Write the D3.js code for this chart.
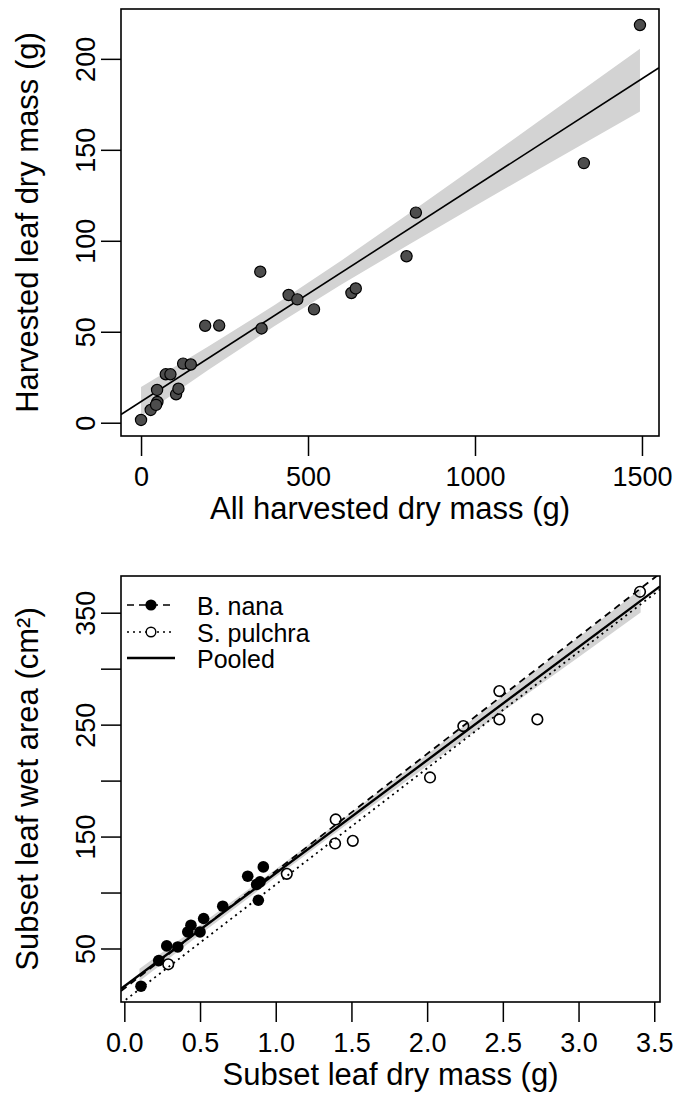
<!DOCTYPE html>
<html>
<head>
<meta charset="utf-8">
<script src="https://cdn.jsdelivr.net/npm/d3@7"></script>
<style>
  body { margin: 0; background: #fff; }
  svg text { font-family: "Liberation Sans", Arial, sans-serif; fill: #000; }
</style>
</head>
<body>
<svg id="chart" width="676" height="1097"></svg>
<script>
// ---- top panel data ----
var allMass = [0, 29, 49, 45, 48, 74, 88, 105, 112, 126, 149, 192, 234, 357, 361, 442, 468, 518, 630, 643, 823, 795, 1326, 1494];
var leafMass = [1.5, 7, 11.4, 9.8, 18, 26.6, 26.6, 15.6, 18.7, 32.5, 32, 53.3, 53.4, 83, 51.8, 70.2, 67.8, 62.3, 71.3, 73.8, 115.5, 91.5, 142.7, 218.6];
var fitTop = [11.6, 0.1183]; // intercept, slope
var bandTopX = [0, 200, 400, 600, 800, 1000, 1200, 1494];
var bandTopLo = [3.6, 28.9, 53.1, 76.0, 97.7, 119.1, 140.3, 171.0];
var bandTopHi = [19.6, 41.7, 64.7, 89.2, 114.7, 140.7, 166.9, 205.6];
var topXTicks = [0, 500, 1000, 1500];
var topYTicks = [0, 50, 100, 150, 200];

// ---- bottom panel data ----
var nanaDry = [0.11, 0.227, 0.28, 0.353, 0.419, 0.44, 0.5, 0.524, 0.65, 0.815, 0.918, 0.874, 0.896, 0.885];
var nanaArea = [16.3, 39.2, 52.3, 51.4, 64.8, 70.8, 64.8, 76.8, 87.8, 114.6, 122.9, 107.2, 109.5, 93.1];
var pulchraDry = [0.29, 1.073, 1.396, 1.392, 1.509, 2.019, 2.239, 2.477, 2.477, 2.728, 3.406];
var pulchraArea = [35.9, 116.7, 165.3, 143.8, 146.2, 202.8, 248.7, 280, 254.7, 254.7, 368.7];
var fitNana = [14.3, 104.8];
var fitPulchra = [3.2, 103.9];
var fitPooled = [16.2, 101.0];
var bandBotX = [0.1, 0.5, 1.0, 1.5, 2.0, 2.5, 3.0, 3.41];
var bandBotLo = [20.8, 62.4, 113.7, 163.9, 213.0, 261.8, 310.3, 350.1];
var bandBotHi = [31.8, 71.0, 120.7, 171.5, 223.4, 275.6, 328.1, 371.1];
var botXTicks = [0, 0.5, 1, 1.5, 2, 2.5, 3, 3.5];
var botYTicks = [50, 100, 150, 200, 250, 300, 350];
var botYLabels = [50, 150, 250, 350];
var legendNames = ["B. nana", "S. pulchra", "Pooled"];

var svg = d3.select("#chart");
var tickFont = 27, titleFont = 31;

function panel(opts) {
  var x = d3.scaleLinear().domain(opts.xDomain).range([opts.left, opts.right]);
  var y = d3.scaleLinear().domain(opts.yDomain).range([opts.bottom, opts.top]);
  var g = svg.append("g");

  // x axis
  var xa = g.append("g")
    .attr("transform", `translate(0,${opts.bottom})`)
    .call(d3.axisBottom(x).tickValues(opts.xTicks).tickSize(20).tickFormat(opts.xFormat));
  xa.select(".domain").remove();
  xa.selectAll("line").attr("stroke", "#000").attr("stroke-width", 1.5);
  xa.selectAll("text")
    .attr("y", 50).attr("dy", null)
    .style("font-size", tickFont + "px");

  // y axis
  var ya = g.append("g")
    .attr("transform", `translate(${opts.left},0)`)
    .call(d3.axisLeft(y).tickValues(opts.yTicks).tickSize(20).tickFormat(opts.yFormat));
  ya.select(".domain").remove();
  ya.selectAll("line").attr("stroke", "#000").attr("stroke-width", 1.5);
  ya.selectAll("text")
    .attr("x", 0).attr("y", -26).attr("dy", null)
    .attr("transform", "rotate(-90)")
    .attr("text-anchor", "middle")
    .style("font-size", tickFont + "px");

  // axis titles
  g.append("text")
    .attr("x", (opts.left + opts.right) / 2)
    .attr("y", opts.bottom + 83)
    .attr("text-anchor", "middle")
    .style("font-size", titleFont + "px")
    .text(opts.xTitle);
  g.append("text")
    .attr("transform", `translate(38,${(opts.top + opts.bottom) / 2}) rotate(-90)`)
    .attr("text-anchor", "middle")
    .style("font-size", titleFont + "px")
    .text(opts.yTitle);

  var plot = g.append("g");
  return { x: x, y: y, g: g, plot: plot, opts: opts };
}

function drawBox(p) {
  var o = p.opts;
  p.g.append("rect")
    .attr("x", o.left).attr("y", o.top)
    .attr("width", o.right - o.left).attr("height", o.bottom - o.top)
    .attr("fill", "none").attr("stroke", "#000").attr("stroke-width", 1.6);
}

function band(p, xs, lo, hi) {
  var area = d3.area()
    .x(d => p.x(d[0]))
    .y0(d => p.y(d[1]))
    .y1(d => p.y(d[2]));
  p.plot.append("path")
    .datum(xs.map((v, i) => [v, lo[i], hi[i]]))
    .attr("d", area)
    .attr("fill", "#d3d3d3");
}

function abline(p, fit, dash, width) {
  var x0 = p.x.domain()[0], x1 = p.x.domain()[1];
  p.plot.append("line")
    .attr("x1", p.x(x0)).attr("y1", p.y(fit[0] + fit[1] * x0))
    .attr("x2", p.x(x1)).attr("y2", p.y(fit[0] + fit[1] * x1))
    .attr("stroke", "#000").attr("stroke-width", width)
    .attr("stroke-dasharray", dash);
}

// ---------- top panel ----------
var topP = panel({
  left: 121, right: 659, top: 9, bottom: 436,
  xDomain: [-60, 1551], yDomain: [-7.3, 227.4],
  xTicks: topXTicks, yTicks: topYTicks,
  xFormat: d3.format("d"), yFormat: d3.format("d"),
  xTitle: "All harvested dry mass (g)",
  yTitle: "Harvested leaf dry mass (g)"
});
svg.append("clipPath").attr("id", "clipTop").append("rect")
  .attr("x", 121).attr("y", 9).attr("width", 538).attr("height", 427);
topP.plot.attr("clip-path", "url(#clipTop)");

band(topP, bandTopX, bandTopLo, bandTopHi);
abline(topP, fitTop, null, 1.6);
topP.plot.selectAll("circle")
  .data(allMass.map((v, i) => [v, leafMass[i]]))
  .enter().append("circle")
  .attr("cx", d => topP.x(d[0]))
  .attr("cy", d => topP.y(d[1]))
  .attr("r", 5.6)
  .attr("fill", "#4d4d4d")
  .attr("stroke", "#000")
  .attr("stroke-width", 1.2);
drawBox(topP);

// ---------- bottom panel ----------
var botP = panel({
  left: 121, right: 660, top: 576, bottom: 1002,
  xDomain: [-0.022, 3.538], yDomain: [2.2, 382.8],
  xTicks: botXTicks, yTicks: botYTicks,
  xFormat: d3.format(".1f"),
  yFormat: d => botYLabels.indexOf(d) >= 0 ? d : "",
  xTitle: "Subset leaf dry mass (g)",
  yTitle: "Subset leaf wet area (cm²)"
});
svg.append("clipPath").attr("id", "clipBot").append("rect")
  .attr("x", 121).attr("y", 576).attr("width", 539).attr("height", 426);
botP.plot.attr("clip-path", "url(#clipBot)");

band(botP, bandBotX, bandBotLo, bandBotHi);
botP.plot.selectAll("circle.nana")
  .data(nanaDry.map((v, i) => [v, nanaArea[i]]))
  .enter().append("circle")
  .attr("class", "nana")
  .attr("cx", d => botP.x(d[0]))
  .attr("cy", d => botP.y(d[1]))
  .attr("r", 5.8)
  .attr("fill", "#000");
botP.plot.selectAll("circle.pul")
  .data(pulchraDry.map((v, i) => [v, pulchraArea[i]]))
  .enter().append("circle")
  .attr("class", "pul")
  .attr("cx", d => botP.x(d[0]))
  .attr("cy", d => botP.y(d[1]))
  .attr("r", 5.3)
  .attr("fill", "none")
  .attr("stroke", "#000")
  .attr("stroke-width", 1.6);
abline(botP, fitNana, "7,5", 1.8);
abline(botP, fitPulchra, "2,4", 1.8);
abline(botP, fitPooled, null, 2.4);
drawBox(botP);

// legend
var lg = svg.append("g");
var rowY = [605, 632, 658];
var dashes = ["7,5", "2,4", null];
legendNames.forEach(function(name, i) {
  lg.append("line")
    .attr("x1", 127).attr("x2", 175)
    .attr("y1", rowY[i]).attr("y2", rowY[i])
    .attr("stroke", "#000").attr("stroke-width", i == 2 ? 2.4 : 1.6)
    .attr("stroke-dasharray", dashes[i]);
  if (i == 0) {
    lg.append("circle").attr("cx", 151).attr("cy", rowY[i]).attr("r", 5.6).attr("fill", "#000");
  } else if (i == 1) {
    lg.append("circle").attr("cx", 151).attr("cy", rowY[i]).attr("r", 4.8)
      .attr("fill", "#fff").attr("stroke", "#000").attr("stroke-width", 1.4);
  }
  lg.append("text")
    .attr("x", 197).attr("y", rowY[i] + 9.5)
    .style("font-size", "25px")
    .text(name);
});
</script>
</body>
</html>
